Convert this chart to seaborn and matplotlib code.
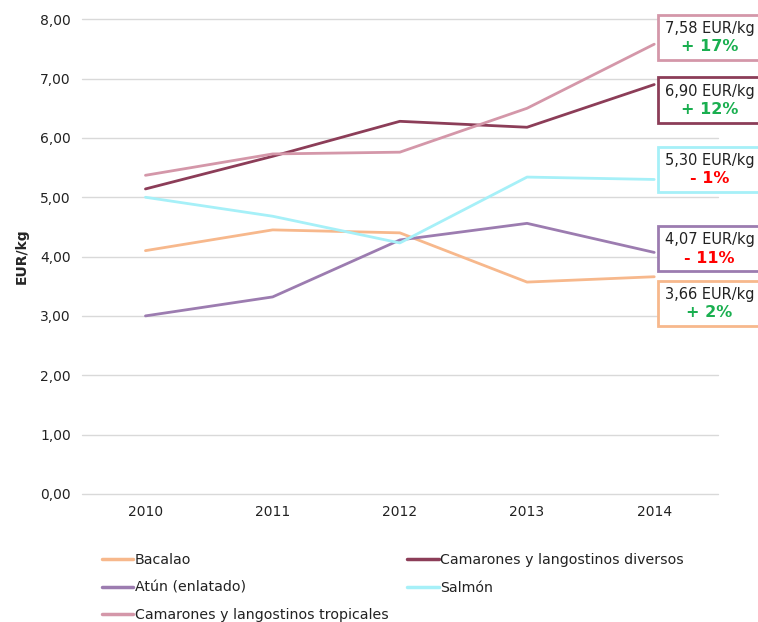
import numpy as np
import pandas as pd

import matplotlib.pyplot as plt
import seaborn as sns
from matplotlib.patches import Rectangle

years = ["2010", "2011", "2012", "2013", "2014"]
bacalao = [4.10, 4.45, 4.40, 3.57, 3.66]
camarones_div = [5.14, 5.69, 6.28, 6.18, 6.90]
atun = [3.00, 3.32, 4.28, 4.56, 4.07]
salmon = [5.00, 4.68, 4.23, 5.34, 5.30]
camarones_trop = [5.37, 5.73, 5.76, 6.50, 7.58]

series = {
    "Bacalao": bacalao,
    "Camarones y langostinos diversos": camarones_div,
    "Atún (enlatado)": atun,
    "Salmón": salmon,
    "Camarones y langostinos tropicales": camarones_trop,
}
colors = {
    "Bacalao": "#F7B88C",
    "Camarones y langostinos diversos": "#8C3D58",
    "Atún (enlatado)": "#9C7CB0",
    "Salmón": "#A6F0F8",
    "Camarones y langostinos tropicales": "#D497A9",
}
# labels at the right: price, change, colour of change
labels = {
    "Camarones y langostinos tropicales": ("7,58 EUR/kg", "+ 17%", "#1AAF50"),
    "Camarones y langostinos diversos": ("6,90 EUR/kg", "+ 12%", "#1AAF50"),
    "Salmón": ("5,30 EUR/kg", "- 1%", "#FF0000"),
    "Atún (enlatado)": ("4,07 EUR/kg", "- 11%", "#FF0000"),
    "Bacalao": ("3,66 EUR/kg", "+ 2%", "#1AAF50"),
}
box_y = {
    "Camarones y langostinos tropicales": 7.70,
    "Camarones y langostinos diversos": 6.64,
    "Salmón": 5.47,
    "Atún (enlatado)": 4.13,
    "Bacalao": 3.21,
}

rows = []
for name, vals in series.items():
    for y, v in zip(years, vals):
        rows.append({"Año": y, "EUR/kg": v, "Producto": name})
df = pd.DataFrame(rows)

sns.set_style("white")
plt.rcParams['font.family'] = ['DejaVu Sans']

fig = plt.figure(figsize=(7.58, 6.22), dpi=100)
ax = fig.add_axes([0.108, 0.206, 0.839, 0.763])

sns.lineplot(data=df, x="Año", y="EUR/kg", hue="Producto", palette=colors,
             linewidth=2, ax=ax, legend=False, sort=False)

ax.set_ylim(0, 8)
ax.set_xlim(-0.5, 4.5)
ax.set_yticks(np.arange(0, 8.01, 1))
ax.set_yticklabels([f"{v:.2f}".replace(".", ",") for v in np.arange(0, 8.01, 1)])
ax.grid(axis="y", color="#D9D9D9", linewidth=1)
for gl in ax.get_ygridlines():
    gl.set_clip_on(False)
ax.set_axisbelow(True)
for s in ax.spines.values():
    s.set_visible(False)
ax.tick_params(axis="both", length=0, labelsize=10, pad=8, labelcolor="#222222")
ax.set_xlabel("")
ax.set_ylabel("EUR/kg", fontsize=10, fontweight="bold", labelpad=8)

# boxes with final price and change
w, h = 0.81, 0.76
for name, (price, change, ccol) in labels.items():
    yc = box_y[name]
    x0 = 4.03
    ax.add_patch(Rectangle((x0, yc - h / 2), w, h, facecolor="white",
                           edgecolor=colors[name], linewidth=2, clip_on=False, zorder=5))
    ax.text(x0 + w / 2, yc + 0.15, price, ha="center", va="center", fontsize=10.5,
            color="#222222", clip_on=False, zorder=6)
    ax.text(x0 + w / 2, yc - 0.16, change, ha="center", va="center", fontsize=11.5,
            fontweight="bold", color=ccol, clip_on=False, zorder=6)

order = ["Bacalao", "Atún (enlatado)", "Camarones y langostinos tropicales",
         "Camarones y langostinos diversos", "Salmón"]
handles = [plt.Line2D([], [], color=colors[n], linewidth=2.5) for n in order]
fig.legend(handles, order, loc="lower left", bbox_to_anchor=(0.118, -0.021), ncol=2,
           frameon=False, fontsize=10.2, handlelength=2.2, handletextpad=0.1,
           columnspacing=1.33, labelspacing=0.95, labelcolor="#222222")

fig.savefig("out.png", dpi=100)
